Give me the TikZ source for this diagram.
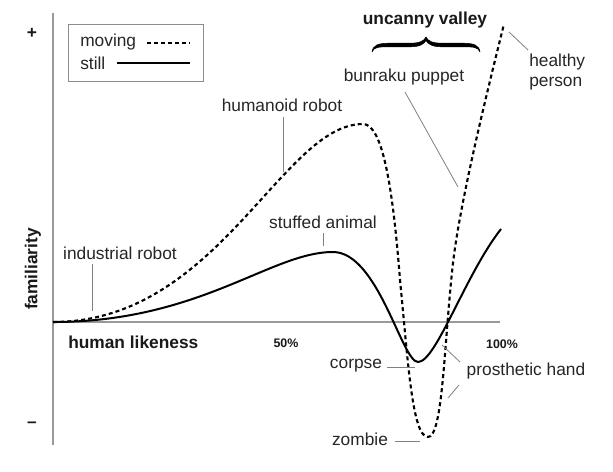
\documentclass[tikz,border=0pt]{standalone}
\usepackage{fontspec}
\setmainfont{Liberation Sans}
\begin{document}
\begin{tikzpicture}[x=0.75pt,y=-0.75pt,
 lbl/.style={font=\fontsize{13}{15}\selectfont, inner sep=0pt, text=black!85},
 blbl/.style={font=\fontsize{13}{15}\selectfont\bfseries, inner sep=0pt, text=black!90},
 sml/.style={font=\fontsize{9.3}{11}\selectfont\bfseries, inner sep=0pt, text=black!90},
 axisline/.style={draw=black!40, line width=1.1pt},
 leader/.style={draw=black!50, line width=0.6pt},
 movingc/.style={line width=1.6pt, dash pattern=on 3pt off 2.3pt},
 stillc/.style={line width=1.5pt},
 bracestyle/.style={fill=black, draw=black, line width=0.4pt, line join=round},
]
\fill[white] (0,0) rectangle (613,471);
\useasboundingbox (0,0) rectangle (613,471);

% axes
\coordinate (ytop) at (53,13);
\coordinate (ybot) at (53,445);
\coordinate (xl) at (53,322);
\coordinate (xr) at (500,322);
\draw[axisline] (ytop) -- (ybot);
\draw[axisline] (xl) -- (xr);

\node[blbl] (plus) at (32,33) {+};
\node[blbl] (minus) at (32,425) {–};
\node[blbl, rotate=90] (fam) at (33,269) {familiarity};
\node[blbl, anchor=west] (hl) at (68,342) {human likeness};
\node[sml] (p50) at (286,343) {50\%};
\node[sml] (p100) at (502,344) {100\%};

% legend
\node[draw=black!45, line width=0.7pt, minimum width=135*0.75pt, minimum height=57*0.75pt, inner sep=0pt] (legend) at (135.5,52.5) {};
\node[lbl, anchor=west] (lmov) at (80,42) {moving};
\node[lbl, anchor=west] (lsti) at (80,63) {still};
\coordinate (lm1) at (147,43);
\coordinate (lm2) at (190,43);
\coordinate (ls1) at (117,63);
\coordinate (ls2) at (190,63);
\draw[movingc] (lm1) -- (lm2);
\draw[stillc] (ls1) -- (ls2);

% still curve
\coordinate (s0) at (53,322);
\coordinate (speak) at (333,252);
\coordinate (smin) at (418,362);
\coordinate (send) at (501,229);
\draw[stillc] (s0) .. controls (200,322) and (271,252) .. (speak)
  .. controls (378,252) and (402,362) .. (smin)
  .. controls (436,362) and (465,275) .. (send);

% moving curve
\coordinate (m0) at (53,322);
\coordinate (mpeak) at (363,124);
\coordinate (mdrop) at (400,280);
\coordinate (mmin) at (428,437);
\coordinate (mrise) at (453,263);
\coordinate (mend) at (504,24);
\draw[movingc] (m0) .. controls (218,322) and (282,124) .. (mpeak)
  .. controls (383,124) and (393,190) .. (mdrop)
  .. controls (408,360) and (412,437) .. (mmin)
  .. controls (443,437) and (444,343) .. (mrise)
  .. controls (460,203) and (485,100) .. (mend);

% labels
\node[lbl] (humanoid) at (282,105) {humanoid robot};
\coordinate (hr1) at (283,117); \coordinate (hr2) at (283,172);
\draw[leader] (hr1) -- (hr2);

\node[lbl] (stuffed) at (323,222) {stuffed animal};
\coordinate (sa1) at (323,233); \coordinate (sa2) at (323,246);
\draw[leader] (sa1) -- (sa2);

\node[lbl] (industrial) at (120,253) {industrial robot};
\coordinate (ir1) at (92,264); \coordinate (ir2) at (92,311);
\draw[leader] (ir1) -- (ir2);

\node[lbl] (bunraku) at (404,77) {bunraku puppet};
\coordinate (bp1) at (405,92); \coordinate (bp2) at (458,187);
\draw[leader] (bp1) -- (bp2);

\node[blbl] (uncanny) at (425,20) {uncanny valley};
\coordinate (br1) at (372,52);
\coordinate (brtip) at (426,37);
\coordinate (br2) at (480,52);
\draw[bracestyle] (br1) .. controls (373,45) and (378,43.2) .. (390,43.2) -- (410,43.2)
  .. controls (420,43.2) and (424,41) .. (brtip)
  .. controls (428,41) and (432,43.2) .. (442,43.2) -- (462,43.2)
  .. controls (474,43.2) and (479,45) .. (br2)
  .. controls (478,47) and (474,46.8) .. (462,46.8) -- (442,46.8)
  .. controls (432,46.8) and (428,44) .. (426,40.5)
  .. controls (424,44) and (420,46.8) .. (410,46.8) -- (390,46.8)
  .. controls (378,46.8) and (374,47) .. (br1) -- cycle;

\node[lbl, anchor=west, align=left, font=\fontsize{13}{15}\selectfont] (healthy) at (529,72) {healthy\\person};
\coordinate (hp1) at (509,32); \coordinate (hp2) at (528,50);
\draw[leader] (hp1) -- (hp2);

\node[lbl] (corpse) at (356,366) {corpse};
\coordinate (co1) at (387,367); \coordinate (co2) at (415,367);
\draw[leader] (co1) -- (co2);

\node[lbl] (prosthetic) at (526,371) {prosthetic hand};
\coordinate (ph1) at (442,345); \coordinate (ph2) at (460,362);
\coordinate (ph3) at (459,385); \coordinate (ph4) at (448,398);
\draw[leader] (ph1) -- (ph2);
\draw[leader] (ph3) -- (ph4);

\node[lbl] (zombie) at (360,439) {zombie};
\coordinate (zo1) at (395,441); \coordinate (zo2) at (420,441);
\draw[leader] (zo1) -- (zo2);
\end{tikzpicture}
\end{document}
